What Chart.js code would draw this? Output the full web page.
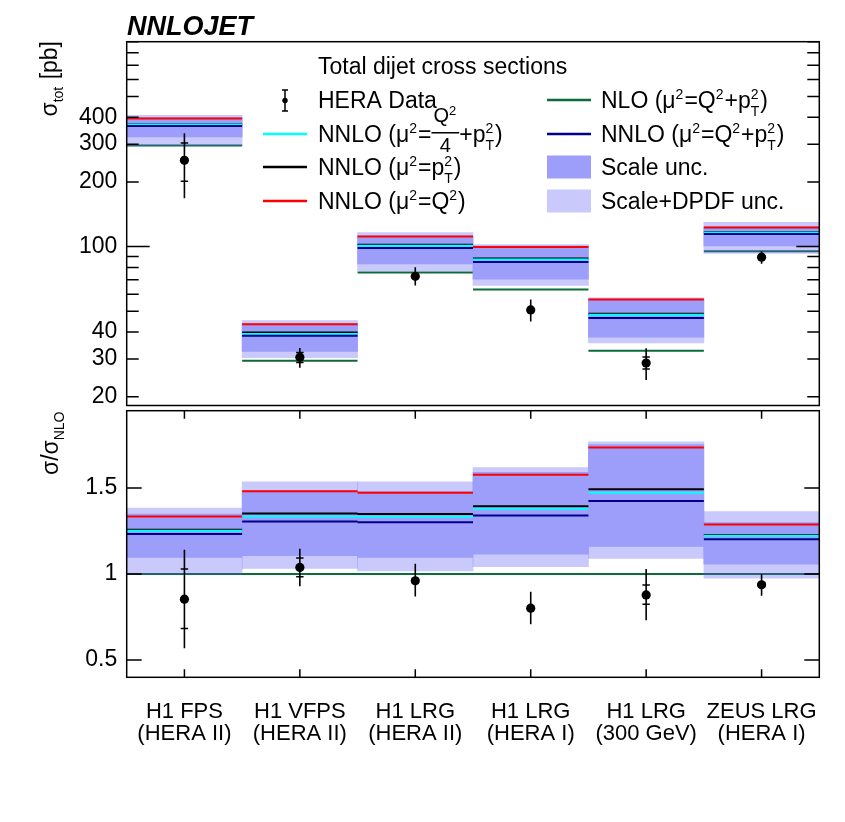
<!DOCTYPE html>
<html>
<head>
<meta charset="utf-8">
<script src="https://cdn.jsdelivr.net/npm/chart.js@4.4.0/dist/chart.umd.min.js"></script>
<style>
    html, body { margin: 0; padding: 0; background: #fff; }
    #wrap { position: relative; width: 845px; height: 822px; }
    canvas { position: absolute; left: 0; }
    #topChart { top: 0; }
    #ratioChart { top: 400px; }
</style>
</head>
<body>
<div id="wrap">
    <canvas id="topChart" width="845" height="411"></canvas>
    <canvas id="ratioChart" width="845" height="422"></canvas>
</div>
<script>
// Total dijet cross sections, NNLOJET vs HERA data

const xLabels = [
    ['H1 FPS', '(HERA II)'],
    ['H1 VFPS', '(HERA II)'],
    ['H1 LRG', '(HERA II)'],
    ['H1 LRG', '(HERA I)'],
    ['H1 LRG', '(300 GeV)'],
    ['ZEUS LRG', '(HERA I)']
];
const binCenters = [0.5, 1.5, 2.5, 3.5, 4.5, 5.5];

// upper panel: sigma_tot [pb]
const nloXs       = [295.5, 29.4, 75.7, 63.2, 32.7, 95.2];
const nnloQ2Xs    = [394.5, 43.5, 111.5, 99.7, 56.7, 122.7];
const nnloPt2Xs   = [371.7, 39.8, 102.1, 88.1, 48.7, 116.9];
const nnloQ24Xs   = [370.0, 39.2, 101.0, 87.2, 48.1, 116.4];
const nnloQ2Pt2Xs = [364.4, 38.4, 98.5, 84.8, 46.5, 114.4];
const scaleLoXs   = [324.2, 32.5, 83.0, 70.5, 37.9, 100.7];
const scaleHiXs   = [398.6, 43.7, 112.0, 100.6, 57.2, 123.8];
const totLoXs     = [295.5, 30.4, 77.1, 65.9, 35.6, 93.0];
const totHiXs     = [409.0, 45.2, 116.3, 102.3, 57.8, 129.8];
const dataXs      = [252.4, 30.5, 72.7, 50.7, 28.7, 89.3];
const dataTotLo   = [168.1, 27.3, 65.9, 44.8, 23.9, 83.2];
const dataTotHi   = [337.2, 33.7, 80.2, 56.7, 33.6, 95.2];
const dataStatLo  = [201.8, 28.9, 71.7, 49.9, 26.9, 88.2];
const dataStatHi  = [304.1, 32.1, 73.8, 51.5, 30.6, 90.4];

// lower panel: sigma / sigma_NLO
const nloRatio       = [1, 1, 1, 1, 1, 1];
const nnloQ2Ratio    = [1.335, 1.481, 1.473, 1.577, 1.736, 1.289];
const nnloPt2Ratio   = [1.258, 1.353, 1.349, 1.394, 1.493, 1.228];
const nnloQ24Ratio   = [1.252, 1.335, 1.334, 1.380, 1.473, 1.223];
const nnloQ2Pt2Ratio = [1.233, 1.306, 1.301, 1.341, 1.425, 1.202];
const scaleLoRatio   = [1.097, 1.107, 1.097, 1.116, 1.161, 1.058];
const scaleHiRatio   = [1.349, 1.485, 1.480, 1.592, 1.753, 1.300];
const totLoRatio     = [1.000, 1.033, 1.019, 1.043, 1.091, 0.977];
const totHiRatio     = [1.384, 1.536, 1.536, 1.619, 1.769, 1.363];
const dataRatio      = [0.854, 1.039, 0.961, 0.802, 0.879, 0.938];
const dataTotLoRatio = [0.569, 0.930, 0.870, 0.709, 0.732, 0.874];
const dataTotHiRatio = [1.141, 1.147, 1.060, 0.897, 1.029, 1.000];
const dataStatLoRatio = [0.683, 0.984, 0.950, 0.790, 0.825, 0.926];
const dataStatHiRatio = [1.029, 1.093, 0.972, 0.814, 0.936, 0.950];

// axis ticks
const sigmaTicks  = [20, 30, 40, 50, 60, 70, 80, 90, 100, 200, 300, 400, 500, 600, 700, 800, 900];
const sigmaLabels = [20, 30, 40, 100, 200, 300, 400];
const ratioTicks  = [0.5, 1, 1.5];
const ratioLabels = ['0.5', '1', '1.5'];

const FONT = "'Liberation Sans', Arial, Helvetica, sans-serif";
const COL = {
    nlo: '#0b6b3a',
    red: '#ff0000',
    black: '#000000',
    cyan: '#00ffff',
    navy: '#00008c',
    scale: '#9d9dfa',
    tot: 'rgba(90, 90, 245, 0.33)'
};

Chart.defaults.font.family = FONT;
Chart.defaults.color = '#000';

function hLine(vals, color, order) {
    return {
        type: 'line',
        data: vals.flatMap((v, i) => [{ x: i, y: v }, { x: i + 1, y: v }, { x: i + 1, y: null }]),
        borderColor: color,
        borderWidth: 2,
        pointRadius: 0,
        spanGaps: false,
        order: order
    };
}

function band(lo, hi, color, order) {
    return {
        type: 'bar',
        data: lo.map((v, i) => ({ x: binCenters[i], y: [v, hi[i]] })),
        backgroundColor: color,
        borderWidth: 0,
        barPercentage: 1,
        categoryPercentage: 1,
        grouped: false,
        order: order
    };
}

function buildDatasets(s) {
    return [
        hLine(s.nlo, COL.nlo, 10),
        band(s.totLo, s.totHi, COL.tot, 9),
        band(s.scaleLo, s.scaleHi, COL.scale, 8),
        hLine(s.pt2, COL.black, 7),
        hLine(s.q24, COL.cyan, 6),
        hLine(s.q2pt2, COL.navy, 5),
        hLine(s.q2, COL.red, 4),
        {
            // total uncertainty
            type: 'line',
            data: s.data.flatMap((v, i) => [
                { x: binCenters[i], y: s.totLo2[i] },
                { x: binCenters[i], y: s.totHi2[i] },
                { x: binCenters[i], y: null }
            ]),
            borderColor: '#000',
            borderWidth: 1.6,
            pointRadius: 0,
            spanGaps: false,
            order: 3
        },
        {
            // statistical uncertainty caps
            type: 'line',
            showLine: false,
            data: s.data.flatMap((v, i) => [
                { x: binCenters[i], y: s.statLo[i] },
                { x: binCenters[i], y: s.statHi[i] }
            ]),
            pointStyle: 'line',
            pointRadius: 3.7,
            pointBorderWidth: 1.5,
            pointBorderColor: '#000',
            borderColor: '#000',
            order: 2
        },
        {
            type: 'line',
            showLine: false,
            data: s.data.map((v, i) => ({ x: binCenters[i], y: v })),
            pointStyle: 'circle',
            pointRadius: 4.6,
            pointBorderWidth: 0,
            pointBackgroundColor: '#000',
            order: 1
        }
    ];
}

// text with super/subscripts and a simple fraction
function rich(ctx, parts, x, y, size, draw) {
    let cx = x;
    const small = Math.round(size * 0.63);
    parts.forEach(p => {
        if (typeof p === 'string') {
            ctx.font = size + 'px ' + FONT;
            if (draw) ctx.fillText(p, cx, y);
            cx += ctx.measureText(p).width;
        } else if (p.num) {
            const fs = Math.round(size * 0.85);
            const nw = rich(ctx, p.num, 0, 0, fs, false);
            const dw = rich(ctx, p.den, 0, 0, fs, false);
            const w = Math.max(nw, dw) + 4;
            const bar = y - size * 0.38;
            if (draw) {
                rich(ctx, p.num, cx + (w - nw) / 2, bar - size * 0.45, fs, true);
                rich(ctx, p.den, cx + (w - dw) / 2, bar + size * 0.82, fs, true);
                ctx.fillRect(cx, bar - 0.75, w, 1.5);
            }
            cx += w;
        } else {
            ctx.font = small + 'px ' + FONT;
            let w = 0;
            if (p.sup) {
                if (draw) ctx.fillText(p.sup, cx, y - size * 0.36);
                w = Math.max(w, ctx.measureText(p.sup).width);
            }
            if (p.sub) {
                if (draw) ctx.fillText(p.sub, cx, y + size * (p.sup ? 0.36 : 0.25));
                w = Math.max(w, ctx.measureText(p.sub).width);
            }
            cx += w + 1;
        }
    });
    return cx - x;
}

function rotatedTitle(ctx, parts, x, yEnd, size) {
    ctx.save();
    ctx.translate(x, yEnd);
    ctx.rotate(-Math.PI / 2);
    const w = rich(ctx, parts, 0, 0, size, false);
    rich(ctx, parts, -w, 0, size, true);
    ctx.restore();
}

function drawFrame(chart, yTicks, yLen, xTicks, xLen) {
    const { ctx, chartArea: a, scales } = chart;
    ctx.save();
    ctx.strokeStyle = '#000';
    ctx.lineWidth = 1.5;
    ctx.strokeRect(a.left, a.top, a.right - a.left, a.bottom - a.top);
    ctx.beginPath();
    yTicks.forEach(v => {
        const py = scales.y.getPixelForValue(v);
        const len = yLen(v);
        ctx.moveTo(a.left, py); ctx.lineTo(a.left + len, py);
        ctx.moveTo(a.right, py); ctx.lineTo(a.right - len, py);
    });
    xTicks.forEach(v => {
        const px = scales.x.getPixelForValue(v);
        ctx.moveTo(px, a.top); ctx.lineTo(px, a.top + xLen);
        ctx.moveTo(px, a.bottom); ctx.lineTo(px, a.bottom - xLen);
    });
    ctx.stroke();
    ctx.restore();
}

const legendLeft = [
    { color: COL.cyan, parts: ['NNLO (μ', { sup: '2' }, '=', { num: ['Q', { sup: '2' }], den: ['4'] }, '+p', { sup: '2', sub: 'T' }, ')'] },
    { color: COL.black, parts: ['NNLO (μ', { sup: '2' }, '=p', { sup: '2', sub: 'T' }, ')'] },
    { color: COL.red, parts: ['NNLO (μ', { sup: '2' }, '=Q', { sup: '2' }, ')'] }
];
const legendRight = [
    { color: COL.nlo, parts: ['NLO (μ', { sup: '2' }, '=Q', { sup: '2' }, '+p', { sup: '2', sub: 'T' }, ')'] },
    { color: COL.navy, parts: ['NNLO (μ', { sup: '2' }, '=Q', { sup: '2' }, '+p', { sup: '2', sub: 'T' }, ')'] },
    { fill: COL.scale, parts: ['Scale unc.'] },
    { fill: COL.tot, parts: ['Scale+DPDF unc.'] }
];

const topDecor = {
    id: 'topDecor',
    afterDraw(chart) {
        const ctx = chart.ctx;
        drawFrame(chart, sigmaTicks, v => (v === 100 ? 23 : 12), [], 0);

        ctx.save();
        ctx.fillStyle = '#000';
        ctx.textAlign = 'left';
        ctx.textBaseline = 'alphabetic';

        ctx.font = 'italic bold 27px ' + FONT;
        ctx.fillText('NNLOJET', 127, 35);

        rotatedTitle(ctx, ['σ', { sub: 'tot' }, ' [pb]'], 57, 41, 23);

        // legend
        ctx.font = '23px ' + FONT;
        ctx.fillText('Total dijet cross sections', 318, 74);

        const rowY = [100, 134, 167, 201];
        const size = 23;

        // HERA data entry
        ctx.strokeStyle = '#000';
        ctx.lineWidth = 1.5;
        ctx.beginPath();
        ctx.moveTo(285, 90); ctx.lineTo(285, 111);
        ctx.moveTo(282, 90); ctx.lineTo(288, 90);
        ctx.moveTo(282, 111); ctx.lineTo(288, 111);
        ctx.stroke();
        ctx.beginPath();
        ctx.arc(285, 100.5, 2.7, 0, Math.PI * 2);
        ctx.fill();
        rich(ctx, ['HERA Data'], 318, rowY[0] + 7.5, size, true);

        legendLeft.forEach((e, k) => {
            const y = rowY[k + 1];
            ctx.strokeStyle = e.color;
            ctx.lineWidth = 2.5;
            ctx.beginPath();
            ctx.moveTo(263, y); ctx.lineTo(307, y);
            ctx.stroke();
            ctx.fillStyle = '#000';
            rich(ctx, e.parts, 318, y + 7.5, size, true);
        });

        legendRight.forEach((e, k) => {
            const y = rowY[k];
            if (e.fill) {
                ctx.fillStyle = e.fill;
                ctx.fillRect(547, y - 11.5, 44, 23);
            } else {
                ctx.strokeStyle = e.color;
                ctx.lineWidth = 2.5;
                ctx.beginPath();
                ctx.moveTo(547, y); ctx.lineTo(591, y);
                ctx.stroke();
            }
            ctx.fillStyle = '#000';
            rich(ctx, e.parts, 601, y + 7.5, size, true);
        });
        ctx.restore();
    }
};

const ratioDecor = {
    id: 'ratioDecor',
    afterDraw(chart) {
        const ctx = chart.ctx;
        drawFrame(chart, ratioTicks, () => 15, binCenters, 8);
        ctx.save();
        ctx.fillStyle = '#000';
        ctx.textAlign = 'left';
        ctx.textBaseline = 'alphabetic';
        rotatedTitle(ctx, ['σ/σ', { sub: 'NLO' }], 58, 10.5, 23);
        ctx.restore();
    }
};

function fixY(s) {
    s.width = 126.7;
    s.paddingTop = 0;
    s.paddingBottom = 0;
}

const topChart = new Chart(document.getElementById('topChart'), {
    type: 'bar',
    data: {
        datasets: buildDatasets({
            nlo: nloXs, q2: nnloQ2Xs, pt2: nnloPt2Xs, q24: nnloQ24Xs, q2pt2: nnloQ2Pt2Xs,
            scaleLo: scaleLoXs, scaleHi: scaleHiXs, totLo: totLoXs, totHi: totHiXs,
            data: dataXs, totLo2: dataTotLo, totHi2: dataTotHi, statLo: dataStatLo, statHi: dataStatHi
        })
    },
    options: {
        responsive: false,
        animation: false,
        events: [],
        layout: { padding: { left: 0, right: 25.7, top: 41.7, bottom: 0 } },
        plugins: { legend: { display: false }, tooltip: { enabled: false } },
        scales: {
            x: {
                type: 'linear',
                min: 0,
                max: 6,
                offset: false,
                display: false,
                afterBuildTicks: s => { s.ticks = binCenters.map(v => ({ value: v })); }
            },
            y: {
                type: 'logarithmic',
                min: 18.2,
                max: 900,
                grid: { display: false, drawTicks: false },
                border: { display: false },
                afterBuildTicks: s => { s.ticks = sigmaTicks.map(v => ({ value: v })); },
                afterFit: fixY,
                ticks: {
                    autoSkip: false,
                    padding: 9.4,
                    font: { size: 23 },
                    color: '#000',
                    callback: v => (sigmaLabels.includes(v) ? String(v) : '')
                }
            }
        }
    },
    plugins: [topDecor]
});

const ratioChart = new Chart(document.getElementById('ratioChart'), {
    type: 'bar',
    data: {
        datasets: buildDatasets({
            nlo: nloRatio, q2: nnloQ2Ratio, pt2: nnloPt2Ratio, q24: nnloQ24Ratio, q2pt2: nnloQ2Pt2Ratio,
            scaleLo: scaleLoRatio, scaleHi: scaleHiRatio, totLo: totLoRatio, totHi: totHiRatio,
            data: dataRatio, totLo2: dataTotLoRatio, totHi2: dataTotHiRatio,
            statLo: dataStatLoRatio, statHi: dataStatHiRatio
        })
    },
    options: {
        responsive: false,
        animation: false,
        events: [],
        layout: { padding: { left: 0, right: 25.7, top: 10.7, bottom: 0 } },
        plugins: { legend: { display: false }, tooltip: { enabled: false } },
        scales: {
            x: {
                type: 'linear',
                min: 0,
                max: 6,
                offset: false,
                grid: { display: false, drawTicks: false },
                border: { display: false },
                afterBuildTicks: s => { s.ticks = binCenters.map(v => ({ value: v })); },
                afterFit: s => { s.height = 144.7; s.paddingLeft = 0; s.paddingRight = 0; },
                ticks: {
                    autoSkip: false,
                    maxRotation: 0,
                    padding: 23.7,
                    font: { size: 22, lineHeight: 1.0 },
                    color: '#000',
                    callback: (v, i) => xLabels[i]
                }
            },
            y: {
                type: 'linear',
                min: 0.4,
                max: 1.95,
                grid: { display: false, drawTicks: false },
                border: { display: false },
                afterBuildTicks: s => { s.ticks = ratioTicks.map(v => ({ value: v })); },
                afterFit: fixY,
                ticks: {
                    autoSkip: false,
                    padding: 9.4,
                    font: { size: 23 },
                    color: '#000',
                    callback: (v, i) => ratioLabels[i]
                }
            }
        }
    },
    plugins: [ratioDecor]
});
</script>
</body>
</html>
